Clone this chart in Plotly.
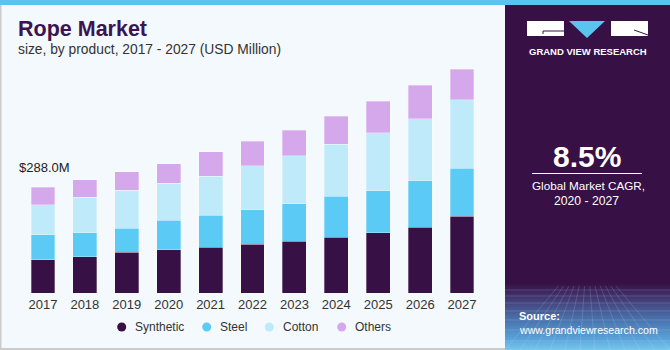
import plotly.graph_objects as go

years = ["2017", "2018", "2019", "2020", "2021", "2022", "2023", "2024", "2025", "2026", "2027"]
synthetic = [90.8, 99.0, 111.8, 118.1, 125.4, 132.5, 140.7, 151.6, 164.4, 178.9, 208.9]
steel = [68.2, 65.5, 64.4, 79.9, 86.2, 94.6, 102.8, 111.8, 114.5, 127.4, 130.9]
cotton = [81.8, 96.3, 103.6, 100.9, 107.4, 120.0, 130.9, 142.9, 158.2, 169.1, 187.3]
others = [47.2, 48.3, 50.2, 53.7, 66.3, 66.3, 70.1, 75.3, 86.4, 90.8, 83.7]
series_names = ["Synthetic", "Steel", "Cotton", "Others"]
series_colors = ["#371046", "#5BCBF5", "#BEEAFA", "#D5A8EC"]

W, H = 670, 350
L, R, T, B = 22, 187, 57, 57
PW, PH = W - L - R, H - T - B

def px(x):
    return (x - L) / PW

def py(y):
    return (H - B - y) / PH

fig = go.Figure()
for name, vals, col in zip(series_names, [synthetic, steel, cotton, others], series_colors):
    fig.add_trace(go.Bar(x=years, y=vals, name=name,
                         marker=dict(color=col, line=dict(width=0.6, color="rgba(255,255,255,0.5)")),
                         showlegend=False))

shapes = []
annotations = []
BG = "#F4F9FD"
# top strip
shapes.append(dict(type="rect", xref="paper", yref="paper", x0=px(0), x1=px(W), y0=py(5), y1=py(0),
                   fillcolor="#5BC4EE", line=dict(width=0), layer="above"))
# borders
shapes.append(dict(type="rect", xref="paper", yref="paper", x0=px(0), x1=px(1.5), y0=py(350), y1=py(5),
                   fillcolor="#CBCBCB", line=dict(width=0), layer="above"))
shapes.append(dict(type="rect", xref="paper", yref="paper", x0=px(0), x1=px(505), y0=py(350), y1=py(348),
                   fillcolor="#CBCBCB", line=dict(width=0), layer="above"))
# right panel
shapes.append(dict(type="rect", xref="paper", yref="paper", x0=px(505), x1=px(670), y0=py(350), y1=py(5),
                   fillcolor="#371046", line=dict(width=0), layer="above"))
# gradient bottom
stops = [(283, (55, 16, 70)), (300, (68, 62, 118)), (320, (74, 116, 174)), (338, (88, 160, 215)), (350, (120, 200, 240))]
def col_at(y):
    for (y0, c0), (y1, c1) in zip(stops[:-1], stops[1:]):
        if y0 <= y <= y1:
            f = (y - y0) / (y1 - y0)
            return "rgb(%d,%d,%d)" % tuple(int(a + (b - a) * f) for a, b in zip(c0, c1))
    return "rgb(120,200,240)"
yy = 283
while yy < 350:
    shapes.append(dict(type="rect", xref="paper", yref="paper", x0=px(505), x1=px(670), y0=py(yy + 2), y1=py(yy),
                       fillcolor=col_at(yy + 1), line=dict(width=0), layer="above"))
    yy += 2
# faint grid on gradient
for i in range(12):
    xb = 505 + i * 15
    shapes.append(dict(type="line", xref="paper", yref="paper", x0=px(587 + (xb - 587) * 0.35), y0=py(286),
                       x1=px(xb), y1=py(350), line=dict(color="rgba(200,230,255,0.18)", width=1), layer="above"))
for yl in [290, 296, 303, 311, 320, 330, 341]:
    shapes.append(dict(type="line", xref="paper", yref="paper", x0=px(505), y0=py(yl), x1=px(670), y1=py(yl),
                       line=dict(color="rgba(200,230,255,0.18)", width=1), layer="above"))
# logo
shapes.append(dict(type="rect", xref="paper", yref="paper", x0=px(527), x1=px(564), y0=py(36), y1=py(21),
                   fillcolor="white", line=dict(width=0), layer="above"))
shapes.append(dict(type="line", xref="paper", yref="paper", x0=px(543), x1=px(564), y0=py(31), y1=py(31),
                   line=dict(color="#371046", width=1), layer="above"))
shapes.append(dict(type="line", xref="paper", yref="paper", x0=px(543), x1=px(543), y0=py(31), y1=py(34),
                   line=dict(color="#371046", width=1), layer="above"))
shapes.append(dict(type="path", xref="paper", yref="paper",
                   path="M %f,%f L %f,%f L %f,%f Z" % (px(569), py(21), px(605), py(21), px(587), py(38)),
                   fillcolor="#5BC4EE", line=dict(width=0), layer="above"))
shapes.append(dict(type="rect", xref="paper", yref="paper", x0=px(611), x1=px(648), y0=py(36), y1=py(21),
                   fillcolor="white", line=dict(width=0), layer="above"))
shapes.append(dict(type="line", xref="paper", yref="paper", x0=px(634), x1=px(648), y0=py(30), y1=py(35),
                   line=dict(color="#371046", width=1), layer="above"))

def text(t, x, y, size, color, anchor="left", bold=False):
    annotations.append(dict(text=("<b>%s</b>" % t) if bold else t, xref="paper", yref="paper",
                            x=px(x), y=py(y), showarrow=False, xanchor=anchor, yanchor="middle",
                            font=dict(family="Liberation Sans", size=size, color=color)))

text("GRAND VIEW RESEARCH", 587.5, 51.5, 9.5, "white", "center", True)
text("8.5%", 587, 156, 30, "white", "center", True)
shapes.append(dict(type="line", xref="paper", yref="paper", x0=px(532), x1=px(642), y0=py(173.5), y1=py(173.5),
                   line=dict(color="white", width=1), layer="above"))
text("Global Market CAGR,", 588, 185.5, 11.7, "white", "center")
text("2020 - 2027", 586, 201, 12.2, "white", "center")
text("Source:", 517, 316, 11, "white", "left", True)
text("www.grandviewresearch.com", 517, 330, 10.6, "white", "left")
# titles
text("Rope Market", 16, 29, 21.5, "#3B1451", "left", True)
text("size, by product, 2017 - 2027 (USD Million)", 16, 49, 13.8, "#333333", "left")
text("$288.0M", 17, 167.5, 13, "#222222", "left")

# legend (manual, circles as in reference)
leg_x = [121.7, 206.7, 269.3, 341.7]
for name, col, lx in zip(series_names, series_colors, leg_x):
    shapes.append(dict(type="circle", xref="paper", yref="paper", x0=px(lx - 4.5), x1=px(lx + 4.5),
                       y0=py(327 + 4.5), y1=py(327 - 4.5), fillcolor=col, line=dict(width=0), layer="above"))
    text(name, lx + 11.5, 327, 12, "#333333", "left")

fig.update_layout(
    width=W, height=H, margin=dict(l=L, r=R, t=T, b=B),
    paper_bgcolor=BG, plot_bgcolor=BG,
    barmode="stack", bargap=0.43,
    xaxis=dict(type="category", showgrid=False, zeroline=False, showline=False, ticks="",
               ticklabelstandoff=2,
               tickfont=dict(family="Liberation Sans", size=13, color="#333333"), fixedrange=True),
    yaxis=dict(range=[0, PH * 2.727], visible=False, fixedrange=True),
    shapes=shapes, annotations=annotations,
    showlegend=False,
)
fig.write_html("out.html", config={"displayModeBar": False})
